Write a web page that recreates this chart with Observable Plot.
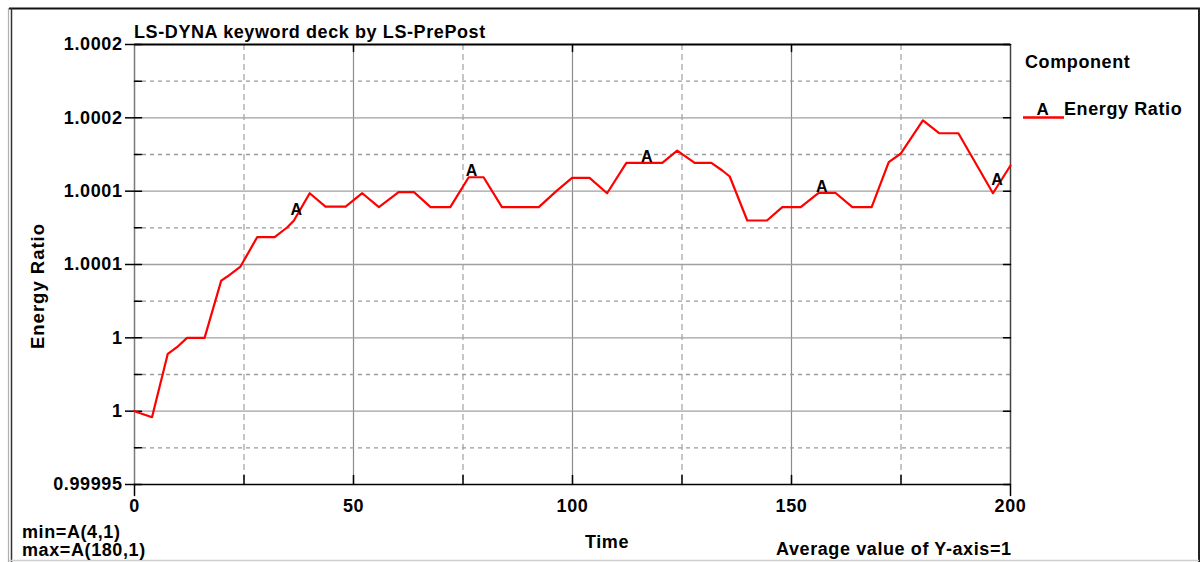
<!DOCTYPE html>
<html>
<head>
<meta charset="utf-8">
<script src="https://cdn.jsdelivr.net/npm/d3@7"></script>
<script src="https://cdn.jsdelivr.net/npm/@observablehq/plot@0.6"></script>
<style>
  body { margin: 0; background: #fff; }
  #chart svg { display: block; }
  #chart svg text { font-weight: bold; letter-spacing: 0.6px; }
</style>
</head>
<body>
<div id="chart"></div>
<script>
// Energy ratio history (LS-DYNA glstat output)
const time = [0, 4, 7.6, 9.7, 12, 16, 19.8, 21.2, 24.2, 28, 32, 34.9, 36.4, 40, 43.6, 48.2,
  52, 55.8, 60.3, 63.8, 67.6, 72.1, 76.3, 79.7, 83.9, 92.3, 96.5, 99.9, 103.9, 107.9, 112.3,
  120.5, 123.9, 127.9, 131.7, 134.2, 135.9, 139.9, 144.4, 147.9, 152.1, 156.2, 160, 163.9,
  168.3, 172.2, 174.9, 180, 183.7, 188.1, 196, 200];
const energyRatio = [1, 0.9999959, 1.0000391, 1.0000436, 1.00005, 1.00005, 1.000089, 1.0000918,
  1.0000986, 1.0001186, 1.0001186, 1.0001254, 1.00013, 1.0001486, 1.0001395, 1.0001395,
  1.0001486, 1.0001391, 1.0001493, 1.0001493, 1.0001391, 1.0001391, 1.0001595, 1.0001595,
  1.0001391, 1.0001391, 1.0001505, 1.0001591, 1.0001591, 1.0001486, 1.0001693, 1.0001693,
  1.0001777, 1.0001693, 1.0001693, 1.0001641, 1.00016, 1.00013, 1.00013, 1.0001391, 1.0001391,
  1.0001489, 1.0001489, 1.0001391, 1.0001391, 1.0001698, 1.0001755, 1.0001982, 1.0001895,
  1.0001895, 1.0001486, 1.0001675];

// Axis ticks and labels
const yTicks = [0.99995, 1.0, 1.00005, 1.0001, 1.00015, 1.0002, 1.00025];
const yTickLabels = ["0.99995", "1", "1", "1.0001", "1.0001", "1.0002", "1.0002"];
const yMinor = [0.999975, 1.000025, 1.000075, 1.000125, 1.000175, 1.000225];
const xMajor = [0, 50, 100, 150, 200];
const xMinor = [25, 75, 125, 175];
const curveLabelTimes = [37, 77, 117, 157, 197];

const series = time.map((t, i) => ({time: t, ratio: energyRatio[i]}));

// Curve label "A" sits on the curve at evenly spaced times
const bis = d3.bisector(d => d.time).right;
const valueAt = t => {
  const i = Math.min(Math.max(bis(series, t), 1), series.length - 1);
  const a = series[i - 1], b = series[i];
  return a.ratio + (b.ratio - a.ratio) * (t - a.time) / (b.time - a.time);
};
const curveLabels = curveLabelTimes.map(t => ({time: t, ratio: valueAt(t)}));

const tickLine = {draw(ctx, l) { ctx.moveTo(0, 0); ctx.lineTo(0, -l); }};
const font = "'Liberation Sans', Arial, sans-serif";

const chart = Plot.plot({
  width: 1203,
  height: 562,
  marginLeft: 134,
  marginRight: 193,
  marginTop: 44,
  marginBottom: 78,
  style: {fontFamily: font, fontSize: "18px", color: "#000", background: "#fff"},
  x: {domain: [0, 200]},
  y: {domain: [0.99995, 1.00025]},
  marks: [
    // grid
    Plot.ruleX(xMinor, {stroke: "#8c8c8c", strokeDasharray: "6,4"}),
    Plot.ruleX([50, 100, 150], {stroke: "#8c8c8c", strokeWidth: 1.2}),
    Plot.ruleY(yMinor, {stroke: "#9a9a9a", strokeDasharray: "4,4", strokeWidth: 1.3}),
    Plot.ruleY(yTicks.slice(1, -1), {stroke: "#a0a0a0", strokeWidth: 1.3}),
    // plot frame
    Plot.ruleX([0], {stroke: "#7a7a7a", strokeWidth: 1.5}),
    Plot.ruleX([200], {stroke: "#444", strokeWidth: 1.5}),
    Plot.ruleY([1.00025], {stroke: "#000", strokeWidth: 2.2}),
    Plot.ruleY([0.99995], {stroke: "#000", strokeWidth: 1.5}),
    // tick marks
    Plot.vector([...yTicks, ...yMinor], {y: d => d, frameAnchor: "left", length: 7, rotate: 90, anchor: "start", shape: tickLine, stroke: "#000", strokeWidth: 1.5}),
    Plot.vector(yTicks, {y: d => d, frameAnchor: "right", length: 7, rotate: 270, anchor: "start", shape: tickLine, stroke: "#000", strokeWidth: 1.5}),
    Plot.vector([...xMinor, 50, 100, 150], {x: d => d, frameAnchor: "bottom", length: 9, rotate: 0, anchor: "start", shape: tickLine, stroke: "#000", strokeWidth: 1.5}),
    Plot.vector([0, 200], {x: d => d, frameAnchor: "bottom", length: 11, rotate: 180, anchor: "start", shape: tickLine, stroke: "#000", strokeWidth: 1.5}),
    Plot.vector([50, 100, 150], {x: d => d, frameAnchor: "top", length: 7, rotate: 180, anchor: "start", shape: tickLine, stroke: "#000", strokeWidth: 1.5}),
    // axes
    Plot.axisY(yTicks, {anchor: "left", tickSize: 9, tickPadding: 3, strokeWidth: 1.5, fontSize: 18, label: null,
      tickFormat: d => yTickLabels[yTicks.indexOf(d)]}),
    Plot.axisX(xMajor, {anchor: "bottom", tickSize: 0, tickPadding: 15, fontSize: 18, label: null}),
    // data
    Plot.line(series, {x: "time", y: "ratio", stroke: "#ff0000", strokeWidth: 2.2}),
    Plot.text(curveLabels, {x: "time", y: "ratio", text: () => "A", lineAnchor: "bottom", dy: -1, fontSize: 16, fill: "#000"})
  ]
});

document.getElementById("chart").appendChild(chart);

// Window border, title, legend and summary annotations
const svg = d3.select(chart);
const line = (x1, y1, x2, y2, stroke, w) =>
  svg.append("line").attr("x1", x1).attr("y1", y1).attr("x2", x2).attr("y2", y2)
    .attr("stroke", stroke).attr("stroke-width", w);
line(9, 8.5, 1200, 8.5, "#111", 2);
line(8.5, 8, 8.5, 562, "#b0b0b0", 1.2);
line(11.5, 8, 11.5, 562, "#333", 1.5);
line(1199, 8, 1199, 562, "#222", 2);
line(9, 560.5, 1199, 560.5, "#cfcfcf", 1.5);

const text = (x, y, s, anchor = "start", size = 18) =>
  svg.append("text").attr("x", x).attr("y", y).attr("text-anchor", anchor)
    .attr("font-size", size).attr("font-family", font).attr("fill", "#000").text(s);

text(134, 38, "LS-DYNA keyword deck by LS-PrePost");
svg.append("text").attr("transform", "translate(44,286) rotate(-90)")
  .attr("text-anchor", "middle").attr("font-size", 18.5).attr("font-family", font)
  .style("letter-spacing", "1px").text("Energy Ratio");
text(607, 548, "Time", "middle");
text(776, 555, "Average value of Y-axis=1");
text(22, 538, "min=A(4,1)");
text(22, 556, "max=A(180,1)");

// legend
text(1025, 68, "Component");
line(1023, 117.5, 1064, 117.5, "#ff0000", 2.5);
text(1043, 115, "A", "middle", 17);
text(1064, 115, "Energy Ratio");
</script>
</body>
</html>
